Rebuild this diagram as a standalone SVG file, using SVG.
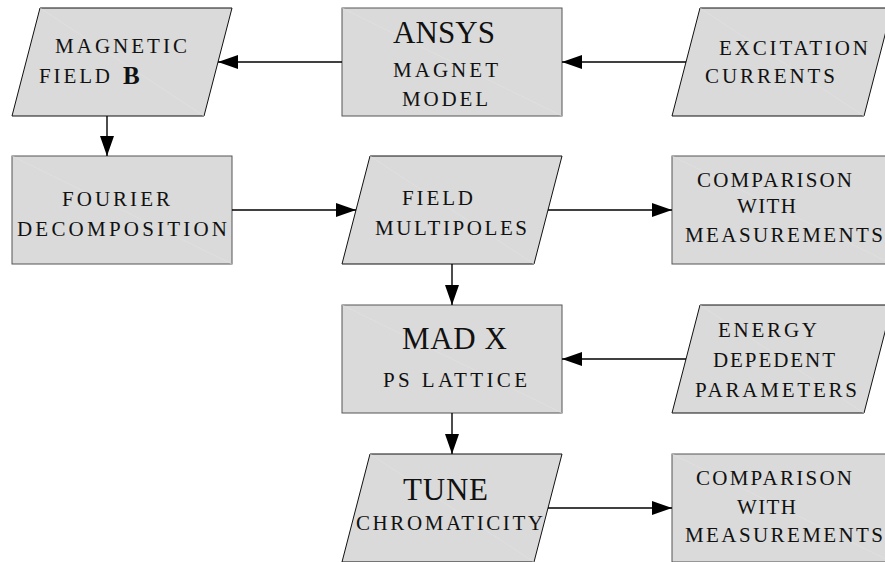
<svg xmlns="http://www.w3.org/2000/svg" width="885" height="562" viewBox="0 0 885 562">
<defs>
<marker id="ah" markerUnits="userSpaceOnUse" markerWidth="20" markerHeight="14" refX="20" refY="7" orient="auto">
<path d="M0,0 L20,7 L0,14 z" fill="#000"/>
</marker>
<style>
.para{fill:#dadada;stroke:#111;stroke-width:1}
.rect{fill:#dadada;stroke:#555;stroke-width:1}
.diag{stroke:#e2e2e2;stroke-width:0.6;fill:none}
.t{font-family:"Liberation Serif","DejaVu Serif",serif;font-size:21px;fill:#111}
.big{font-family:"Liberation Serif","DejaVu Serif",serif;font-size:31px;fill:#111}
.bold{font-family:"Liberation Serif","DejaVu Serif",serif;font-size:25px;font-weight:bold;fill:#111}
.conn line{stroke:#000;stroke-width:1.4;marker-end:url(#ah)}
</style>
</defs>
<rect width="885" height="562" fill="#fff"/>

<g id="magnetic-field">
<polygon class="para" points="40,8 232,8 204,116 12,116"/>
<line class="diag" x1="40" y1="8" x2="204" y2="116"/>
<text class="t" x="55" y="53" textLength="132" lengthAdjust="spacing">MAGNETIC</text>
<text class="t" x="39" y="83" textLength="71" lengthAdjust="spacing">FIELD</text>
<text class="bold" x="123" y="84">B</text>
</g>

<g id="ansys">
<rect class="rect" x="342" y="8" width="220" height="108"/>
<line class="diag" x1="342" y1="8" x2="562" y2="116"/>
<text class="big" x="393" y="43" textLength="102" lengthAdjust="spacing">ANSYS</text>
<text class="t" x="393" y="77" textLength="105" lengthAdjust="spacing">MAGNET</text>
<text class="t" x="402" y="106" textLength="86" lengthAdjust="spacing">MODEL</text>
</g>

<g id="excitation">
<polygon class="para" points="700,8 892,8 864,116 672,116"/>
<line class="diag" x1="700" y1="8" x2="864" y2="116"/>
<text class="t" x="719" y="55" textLength="149" lengthAdjust="spacing">EXCITATION</text>
<text class="t" x="705" y="83" textLength="130" lengthAdjust="spacing">CURRENTS</text>
</g>

<g id="fourier">
<rect class="rect" x="12" y="156" width="220" height="108"/>
<line class="diag" x1="12" y1="156" x2="232" y2="264"/>
<text class="t" x="62" y="206" textLength="108" lengthAdjust="spacing">FOURIER</text>
<text class="t" x="17" y="236" textLength="210" lengthAdjust="spacing">DECOMPOSITION</text>
</g>

<g id="field-multipoles">
<polygon class="para" points="370,156 562,156 534,264 342,264"/>
<line class="diag" x1="370" y1="156" x2="534" y2="264"/>
<text class="t" x="402" y="205" textLength="71" lengthAdjust="spacing">FIELD</text>
<text class="t" x="375" y="235" textLength="152" lengthAdjust="spacing">MULTIPOLES</text>
</g>

<g id="comparison-1">
<rect class="rect" x="672" y="156" width="220" height="108"/>
<line class="diag" x1="672" y1="156" x2="892" y2="264"/>
<text class="t" x="697" y="187" textLength="155" lengthAdjust="spacing">COMPARISON</text>
<text class="t" x="737" y="213" textLength="59" lengthAdjust="spacing">WITH</text>
<text class="t" x="685" y="242" textLength="198" lengthAdjust="spacing">MEASUREMENTS</text>
</g>

<g id="madx">
<rect class="rect" x="342" y="305" width="220" height="108"/>
<line class="diag" x1="342" y1="305" x2="562" y2="413"/>
<text class="big" x="402" y="349" textLength="105" lengthAdjust="spacing">MAD X</text>
<text class="t" x="383" y="387" textLength="144" lengthAdjust="spacing">PS LATTICE</text>
</g>

<g id="energy">
<polygon class="para" points="700,305 892,305 864,413 672,413"/>
<line class="diag" x1="700" y1="305" x2="864" y2="413"/>
<text class="t" x="718" y="337" textLength="99" lengthAdjust="spacing">ENERGY</text>
<text class="t" x="713" y="367" textLength="122" lengthAdjust="spacing">DEPEDENT</text>
<text class="t" x="695" y="397" textLength="162" lengthAdjust="spacing">PARAMETERS</text>
</g>

<g id="tune">
<polygon class="para" points="370,454 562,454 534,562 342,562"/>
<line class="diag" x1="370" y1="454" x2="534" y2="562"/>
<text class="big" x="403" y="500" textLength="85" lengthAdjust="spacing">TUNE</text>
<text class="t" x="356" y="530" textLength="187" lengthAdjust="spacing">CHROMATICITY</text>
</g>

<g id="comparison-2">
<rect class="rect" x="672" y="454" width="220" height="108"/>
<line class="diag" x1="672" y1="454" x2="892" y2="562"/>
<text class="t" x="696" y="485" textLength="156" lengthAdjust="spacing">COMPARISON</text>
<text class="t" x="737" y="514" textLength="59" lengthAdjust="spacing">WITH</text>
<text class="t" x="685" y="542" textLength="198" lengthAdjust="spacing">MEASUREMENTS</text>
</g>

<g id="connectors" class="conn">
<line x1="342" y1="62" x2="218" y2="62"/>
<line x1="686" y1="62" x2="562" y2="62"/>
<line x1="107" y1="116" x2="107" y2="156"/>
<line x1="232" y1="210" x2="356" y2="210"/>
<line x1="548" y1="210" x2="672" y2="210"/>
<line x1="452" y1="264" x2="452" y2="305"/>
<line x1="686" y1="359" x2="562" y2="359"/>
<line x1="452" y1="413" x2="452" y2="454"/>
<line x1="548" y1="508" x2="672" y2="508"/>
</g>
</svg>
